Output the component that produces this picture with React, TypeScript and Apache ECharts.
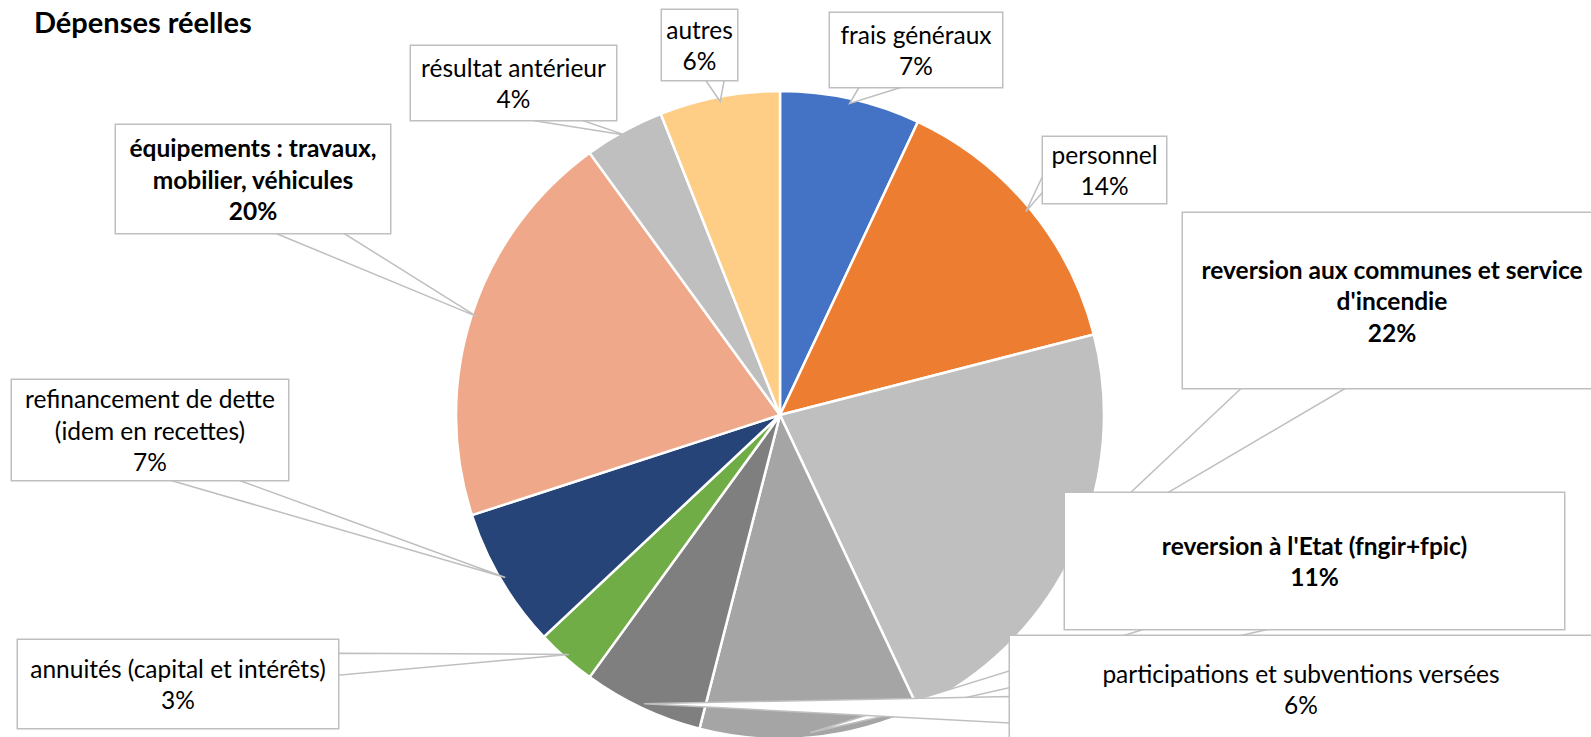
import React, { useEffect, useRef } from "react";
import * as echarts from "echarts";

const categories = [
  "frais généraux",
  "personnel",
  "reversion aux communes et service\nd'incendie",
  "reversion à l'Etat (fngir+fpic)",
  "participations et subventions versées",
  "annuités (capital et intérêts)",
  "refinancement de dette\n(idem en recettes)",
  "équipements : travaux,\nmobilier, véhicules",
  "résultat antérieur",
  "autres",
];
const values = [7, 14, 22, 11, 6, 3, 7, 20, 4, 6];
const colors = [
  "#4472C4",
  "#ED7D31",
  "#BFBFBF",
  "#A5A5A5",
  "#7F7F7F",
  "#70AD47",
  "#264478",
  "#F0A88A",
  "#BFBFBF",
  "#FFCE86",
];
const boldLabels = [false, false, true, true, false, false, false, true, false, false];

// layout only: label box [left, top, width, height]
const labelBoxes = [
  [830, 13, 172, 74],
  [1043, 137, 123, 66],
  [1183, 213, 418, 175],
  [1065, 493, 499, 136],
  [1010, 636, 582, 106],
  [18, 640, 320, 88],
  [12, 380, 276, 100],
  [116, 125, 274, 108],
  [411, 46, 205, 74],
  [662, 10, 75, 70],
];
// layout only: callout side and start fraction along that side
const calloutSides: [string, number][] = [
  ["bottom", 0.17],
  ["left", 0.58],
  ["bottom", 0.14],
  ["bottom", 0.16],
  ["left", 0.57],
  ["right", 0.15],
  ["bottom", 0.57],
  ["bottom", 0.58],
  ["bottom", 0.58],
  ["bottom", 0.58],
];
const pieCenter = [780, 415];
const pieRadius = 324;

function calloutPolygon(i: number): number[][] {
  const total = values.reduce((a, b) => a + b, 0);
  let before = 0;
  for (let k = 0; k < i; k++) before += values[k];
  const theta = ((before + values[i] / 2) / total) * Math.PI * 2;
  const r = pieRadius * 0.985;
  const tip = [pieCenter[0] + r * Math.sin(theta), pieCenter[1] - r * Math.cos(theta)];
  const b = labelBoxes[i];
  const [side, f0] = calloutSides[i];
  let p1: number[], p2: number[];
  if (side === "bottom") {
    const y = b[1] + b[3];
    p1 = [b[0] + b[2] * f0, y];
    p2 = [b[0] + b[2] * (f0 + 0.25), y];
  } else if (side === "left") {
    p1 = [b[0], b[1] + b[3] * f0];
    p2 = [b[0], b[1] + b[3] * (f0 + 0.25)];
  } else {
    p1 = [b[0] + b[2], b[1] + b[3] * f0];
    p2 = [b[0] + b[2], b[1] + b[3] * (f0 + 0.25)];
  }
  return [p1, tip, p2];
}

export default function App() {
  const ref = useRef<HTMLDivElement>(null);
  useEffect(() => {
    if (!ref.current) return;
    const chart = echarts.init(ref.current, undefined, { renderer: "svg" });
    const sliceData = categories.map((name, i) => ({
      name,
      value: values[i],
      itemStyle: { color: colors[i] },
    }));
    const labelData = categories.map((name, i) => ({
      name,
      value: values[i],
      label: {
        fontWeight: boldLabels[i] ? "bold" : "normal",
        width: labelBoxes[i][2],
        height: labelBoxes[i][3],
      },
    }));
    const callouts = categories.map((_, i) => ({
      type: "polygon",
      z: 3,
      silent: true,
      shape: { points: calloutPolygon(i) },
      style: { fill: "#fff", stroke: "#BFBFBF", lineWidth: 1.5 },
    }));
    chart.setOption({
      animation: false,
      title: {
        text: "Dépenses réelles",
        left: 29,
        top: 2,
        textStyle: { fontFamily: "Lato", fontSize: 29, fontWeight: "bold", color: "#000" },
      },
      graphic: { elements: callouts },
      series: [
        {
          type: "pie",
          z: 2,
          center: pieCenter,
          radius: pieRadius,
          startAngle: 90,
          clockwise: true,
          silent: true,
          itemStyle: { borderColor: "#fff", borderWidth: 2.5 },
          label: { show: false },
          labelLine: { show: false },
          data: sliceData,
        },
        {
          type: "pie",
          z: 5,
          center: pieCenter,
          radius: pieRadius,
          startAngle: 90,
          clockwise: true,
          silent: true,
          avoidLabelOverlap: false,
          percentPrecision: 0,
          itemStyle: { color: "rgba(0,0,0,0)", borderWidth: 0 },
          label: {
            show: true,
            position: "outside",
            formatter: "{b}\n{d}%",
            fontFamily: "Lato",
            fontSize: 24.5,
            lineHeight: 31.5,
            color: "#000",
            backgroundColor: "#fff",
            borderColor: "#BFBFBF",
            borderWidth: 1.5,
            padding: 0,
            align: "center",
          },
          labelLine: { show: false },
          labelLayout: (p: any) => {
            const b = labelBoxes[p.dataIndex];
            return {
              x: b[0] + b[2] / 2,
              y: b[1] + b[3] / 2,
              align: "center",
              verticalAlign: "middle",
            };
          },
          data: labelData,
        },
      ],
    });
    return () => chart.dispose();
  }, []);
  return (
    <div
      ref={ref}
      style={{ position: "fixed", left: 0, top: 0, width: 1591, height: 737, background: "#fff" }}
    />
  );
}
